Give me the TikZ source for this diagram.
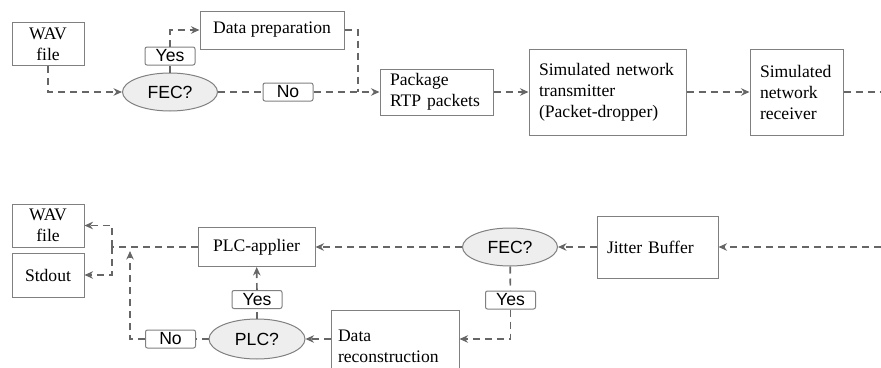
\documentclass[tikz,border=0pt]{standalone}
\usepackage{fontspec}
\setmainfont{Liberation Serif}
\setsansfont{Liberation Sans}
\usetikzlibrary{shapes.geometric,arrows.meta}
\definecolor{linegray}{HTML}{666666}
\definecolor{boxgray}{HTML}{808080}
\definecolor{fecfill}{HTML}{EEEEEE}
\begin{document}
\begin{tikzpicture}[x=1pt,y=-1pt]
        \tikzstyle{block}=[rectangle,draw=boxgray,line width=1pt,font=\fontsize{17.6}{21}\selectfont,inner sep=0pt]
        \tikzstyle{lblock}=[block,align=left,inner xsep=10pt]
        \tikzstyle{decision}=[ellipse,draw=boxgray,line width=1pt,fill=fecfill,font=\sffamily\fontsize{17.6}{21}\selectfont,minimum width=95pt,minimum height=38pt,inner sep=0pt]
        \tikzstyle{answer}=[rectangle,rounded corners=2pt,draw=boxgray,line width=1pt,fill=white,font=\sffamily\fontsize{17.6}{21}\selectfont,minimum width=50pt,minimum height=18pt,inner sep=0pt]
        \tikzstyle{edge}=[draw=linegray,line width=1.7pt,dash pattern=on 7pt off 5pt]
        \tikzstyle{arrow}=[edge,-{Stealth[length=8.5pt,width=7.5pt]}]
        \useasboundingbox (0,0) rectangle (881,367);
       % sender side
         \node [block,minimum width=72pt,minimum height=43pt,align=center] (wavin) at (48,44) {WAV\\file};
         \node [decision] (fecin) at (170,92) {FEC?};
         \node [answer] (yesin) at (170,56) {Yes};
         \node [answer] (noin) at (288,92) {No};
         \node [block,minimum width=144pt,minimum height=38pt] (prep) at (272,30) {Data preparation};
         \node [lblock,text width=93pt,minimum height=46pt] (pkg) at (436.5,92) {Package\\RTP packets};
         \node [lblock,text width=137pt,minimum height=86pt] (tx) at (607.5,92) {Simulated network\\transmitter\\(Packet-dropper)};
         \node [lblock,text width=73pt,minimum height=86pt] (rx) at (796.5,92) {Simulated\\network\\receiver};
         \coordinate (join) at (358,92);
         \coordinate (rxout) at (881,92);
         \path[arrow] (wavin) |- (fecin);
         \path[edge] (fecin) -- (yesin);
         \path[arrow] (yesin) |- (prep);
         \path[edge] (fecin) -- (noin);
         \path[arrow] (noin) -- (pkg);
         \path[edge] (prep) -| (join);
         \path[arrow] (pkg) -- (tx);
         \path[arrow] (tx) -- (rx);
         \path[edge] (rx) -- (rxout);
       % receiver side
         \node [block,minimum width=72pt,minimum height=43pt,align=center] (wavout) at (48,225.5) {WAV\\file};
         \node [block,minimum width=72pt,minimum height=44pt] (stdout) at (48,275) {Stdout};
         \node [block,minimum width=117pt,minimum height=39pt] (plcapp) at (256.5,247) {PLC-applier};
         \node [decision] (fecout) at (510,247) {FEC?};
         \node [lblock,text width=101pt,minimum height=62pt] (jitter) at (657.5,247) {Jitter Buffer};
         \node [answer] (yesfec) at (510.5,300) {Yes};
         \node [lblock,inner xsep=7pt,text width=114pt,minimum height=72pt] (recon) at (395,346) {Data\\reconstruction};
         \node [decision,minimum width=96pt,minimum height=40pt] (plc) at (257,339) {PLC?};
         \node [answer] (yesplc) at (257,299.5) {Yes};
         \node [answer] (noplc) at (170.5,339) {No};
         \coordinate (split) at (112,247);
         \coordinate (merge) at (130,251);
         \coordinate (rxin) at (881,247);
         \path[arrow] (rxin) -- (jitter);
         \path[arrow] (jitter) -- (fecout);
         \path[arrow] (fecout) -- (plcapp);
         \path[edge] (plcapp) -- (split);
         \path[arrow] (split) |- (wavout);
         \path[arrow] (split) |- (stdout);
         \path[edge] (fecout) -- (yesfec);
         \path[arrow] (yesfec) |- (recon.east |- plc);
         \path[arrow] (recon.west |- plc) -- (plc);
         \path[edge] (plc) -- (yesplc);
         \path[arrow] (yesplc) -- (plcapp);
         \path[edge] (plc) -- (noplc);
         \path[arrow] (noplc) -| (merge);
      \end{tikzpicture}
\end{document}
